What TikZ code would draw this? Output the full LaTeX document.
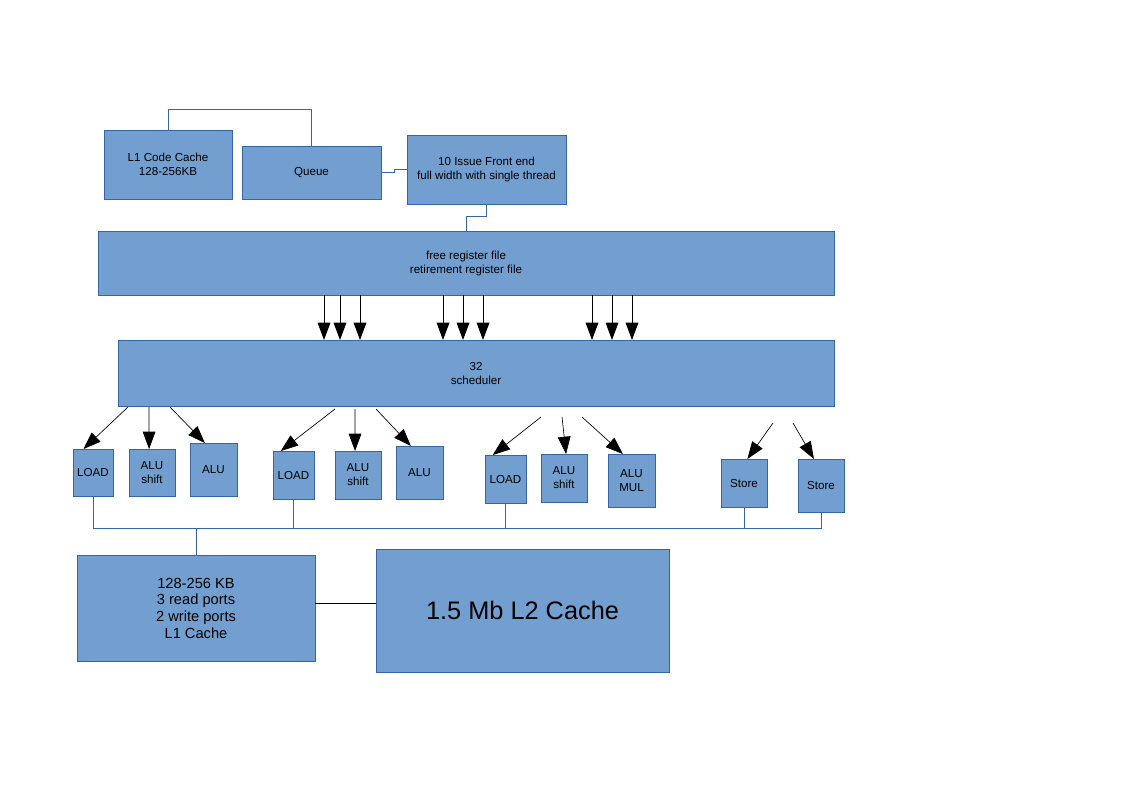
\documentclass[tikz,border=0pt]{standalone}
\usepackage{fontspec}
\setmainfont{Liberation Sans}
\usepackage{tikz}
\usetikzlibrary{arrows.meta}
\definecolor{boxfill}{HTML}{729FCF}
\definecolor{boxline}{HTML}{3465A4}
\tikzset{>={Triangle[length=13pt,width=9.5pt]}}
\tikzset{
  blk/.style={draw=boxline, fill=boxfill, line width=0.75pt, inner sep=0pt, outer sep=0pt,
    align=center, font=\fontsize{8.7}{10.5}\selectfont},
  sz/.style 2 args={minimum width=#1*0.75pt, minimum height=#2*0.75pt},
  wire/.style={draw=boxline, line width=0.75pt},
  feed/.style={->, line width=0.5pt}
}
\begin{document}
\begin{tikzpicture}[x=0.75pt, y=-0.75pt]
                \useasboundingbox (0,0) rectangle (1123,794);
                \node[blk, sz={128}{69}] (codecache) at (168,164.5) {L1 Code Cache\\128-256KB};
                \node[blk, sz={139}{53}] (queue) at (311.5,172.5) {Queue};
                \node[blk, sz={159}{69}] (frontend) at (486.5,169.5) {10 Issue Front end\\full width with single thread};
                \node[blk, sz={736}{64}] (regfile) at (466,263) {free register file\\retirement register file};
                \node[blk, sz={716}{66}] (sched) at (476,373) {32\\scheduler};
                \node[blk, sz={40}{47}] (load1) at (93,472.5) {LOAD};
                \node[blk, sz={46}{47}] (shift1) at (152,472.5) {ALU\\shift};
                \node[blk, sz={47}{53}] (alu1) at (213.5,469.5) {ALU};
                \node[blk, sz={41}{48}] (load2) at (293.5,475) {LOAD};
                \node[blk, sz={46}{48}] (shift2) at (358,475) {ALU\\shift};
                \node[blk, sz={47}{53}] (alu2) at (419.5,472.5) {ALU};
                \node[blk, sz={41}{48}] (load3) at (505.5,479) {LOAD};
                \node[blk, sz={46}{48}] (shift3) at (564,478) {ALU\\shift};
                \node[blk, sz={47}{53}] (mul) at (631.5,480.5) {ALU\\MUL};
                \node[blk, sz={46}{48}] (store1) at (744,483) {Store};
                \node[blk, sz={46}{53}] (store2) at (821,485.5) {Store};
                \node[blk, sz={238}{106}, font=\fontsize{11}{12.5}\selectfont] (l1cache) at (196,608) {128-256 KB\\3 read ports\\2 write ports\\L1 Cache};
                \node[blk, sz={293}{123}, font=\fontsize{19}{22}\selectfont] (l2cache) at (522.5,610.5) {1.5 Mb L2 Cache};
                \draw[wire] (codecache.north) -- ++(0,-21) -| (queue.north);
                \draw[wire] (queue.east) -- ++(13,0) |- (frontend.west);
                \draw[wire] (frontend.south) -- ++(0,12) -| (regfile.north);
                \foreach \x in {324,340,360,443,463,483,592,612,632}
                    \draw[->, line width=0.75pt] (regfile.south -| \x,0) -- (sched.north -| \x,0);
                \foreach \sx/\sy/\unit/\ang in {128/407/load1/112, 149/407/shift1/97, 170/407/alu1/108,
                        335/409/load2/118, 355/409/shift2/97, 376/409/alu2/108,
                        541/417/load3/118, 562/417/shift3/85, 582/417/mul/108,
                        773/423/store1/82, 793/423/store2/105} {
                    \coordinate (from\unit) at (\sx,\sy);
                    \draw[feed] (from\unit) -- (\unit.\ang);
                }
                \coordinate (bus) at (0,528);
                \draw[wire] (load1.south) |- (bus -| store2.south) -- (store2.south);
                \foreach \n in {load2,load3,store1}
                    \draw[wire] (\n.south) -- (\n.south |- bus);
                \draw[wire] (l1cache.north) -- (l1cache.north |- bus);
                \draw[line width=0.75pt] (l1cache.2.4) -- (l1cache.2.4 -| l2cache.west);
            \end{tikzpicture}
\end{document}
